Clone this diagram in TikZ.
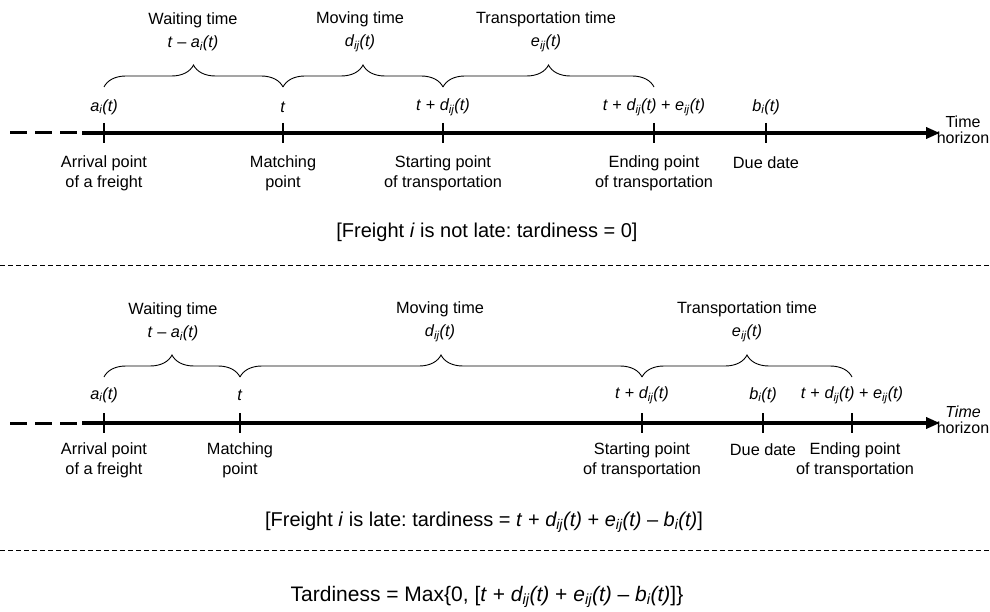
\documentclass[tikz,border=0pt]{standalone}
\usepackage{fontspec}
\setmainfont{Liberation Sans}
\usetikzlibrary{arrows.meta,decorations.pathreplacing}

% italic quantities of the timeline
\newcommand{\vt}{\textit{t}}
\newcommand{\vai}{\textit{a\textsubscript{i}(t)}}
\newcommand{\vbi}{\textit{b\textsubscript{i}(t)}}
\newcommand{\vdij}{\textit{d\textsubscript{ij}(t)}}
\newcommand{\veij}{\textit{e\textsubscript{ij}(t)}}

\begin{document}
\frenchspacing
\begin{tikzpicture}[x=1pt, y=-1pt,
  every node/.style={font=\fontsize{16.3}{20}\selectfont, inner sep=0pt, align=center},
  timeaxis/.style={line width=3.6pt, -{Triangle[length=14pt,width=11pt]}},
  tailaxis/.style={line width=3pt, dash pattern=on 17pt off 8pt},
  tick/.style={line width=1.3pt},
  span/.style={decorate, decoration={brace, amplitude=22pt}, line width=0.9pt},
  separator/.style={line width=1pt, dash pattern=on 5pt off 3pt},
  horizon/.style={font=\fontsize{16}{16.5}\selectfont},
  caption/.style={font=\fontsize{20}{24}\selectfont}]

\useasboundingbox (0,0) rectangle (990,612);

% ---------- Freight i is not late ----------
% Axis
\coordinate (tailA) at (10,133);
\coordinate (baseA) at (82,133);
\coordinate (tipA) at (940,133);
\draw[tailaxis] (tailA) -- (baseA);
\draw[timeaxis] (baseA) -- (tipA);
\node (horA) at (963,130) [horizon] {Time\\horizon};

% Ticks
\foreach \name/\x in {arrA/104, matchA/283, startA/443, endA/654, dueA/766} {
  \coordinate (\name) at (\x,133);
  \draw[tick] ([yshift=10pt]\name) -- ([yshift=-10pt]\name);
}

% Labels above the axis
\node (lblArrA) at (104,107) {\vai};
\node (lblMatchA) at (283,107) {\vt};
\node (lblStartA) at (443,107) {\vt{} + \vdij};
\node (lblEndA) at (654,107) {\vt{} + \vdij{} + \veij};
\node (lblDueA) at (766,107) {\vbi};

% Labels below the axis
\node (txtArrA) at (104,173) {Arrival point\\of a freight};
\node (txtMatchA) at (283,173) {Matching\\point};
\node (txtStartA) at (443,173) {Starting point\\of transportation};
\node (txtEndA) at (654,173) {Ending point\\of transportation};
\node (txtDueA) at (766,163) {Due date};

% Braces
\draw[span] ([yshift=46pt]arrA) -- ([yshift=46pt]matchA);
\draw[span] ([yshift=46pt]matchA) -- ([yshift=46pt]startA);
\draw[span] ([yshift=46pt]startA) -- ([yshift=46pt]endA);
\node (waitA) at (193,32) {Waiting time\\[3pt]\vt{} -- \vai};
\node (moveA) at (360,32) {Moving time\\[3pt]\vdij};
\node (transA) at (546,32) {Transportation time\\[3pt]\veij};

\node (capA) at (487,232) [caption] {[Freight \textit{i} is not late: tardiness = 0]};

% Separator
\coordinate (sepAl) at (0,266);
\coordinate (sepAr) at (990,266);
\draw[separator] (sepAl) -- (sepAr);

% ---------- Freight i is late ----------
% Axis
\coordinate (tailB) at (10,423);
\coordinate (baseB) at (82,423);
\coordinate (tipB) at (940,423);
\draw[tailaxis] (tailB) -- (baseB);
\draw[timeaxis] (baseB) -- (tipB);
\node (horB) at (963,420) [horizon] {\textit{Time}\\horizon};

% Ticks
\foreach \name/\x in {arrB/104, matchB/240, startB/642, dueB/763, endB/852} {
  \coordinate (\name) at (\x,423);
  \draw[tick] ([yshift=10pt]\name) -- ([yshift=-10pt]\name);
}

% Labels above the axis
\node (lblArrB) at (104,395) {\vai};
\node (lblMatchB) at (240,395) {\vt};
\node (lblStartB) at (642,395) {\vt{} + \vdij};
\node (lblDueB) at (763,395) {\vbi};
\node (lblEndB) at (852,395) {\vt{} + \vdij{} + \veij};

% Labels below the axis
\node (txtArrB) at (104,460) {Arrival point\\of a freight};
\node (txtMatchB) at (240,460) {Matching\\point};
\node (txtStartB) at (642,460) {Starting point\\of transportation};
\node (txtDueB) at (763,450) {Due date};
\node (txtEndB) at (855,460) {Ending point\\of transportation};

% Braces
\draw[span] ([yshift=46pt]arrB) -- ([yshift=46pt]matchB);
\draw[span] ([yshift=46pt]matchB) -- ([yshift=46pt]startB);
\draw[span] ([yshift=46pt]startB) -- ([yshift=46pt]endB);
\node (waitB) at (173,322) {Waiting time\\[3pt]\vt{} -- \vai};
\node (moveB) at (440,322) {Moving time\\[3pt]\vdij};
\node (transB) at (747,322) {Transportation time\\[3pt]\veij};

\node (capB) at (484,522) [caption] {[Freight \textit{i} is late: tardiness = \vt{} + \vdij{} + \veij{} -- \vbi]};

% Separator
\coordinate (sepBl) at (0,550);
\coordinate (sepBr) at (990,550);
\draw[separator] (sepBl) -- (sepBr);

% Tardiness
\node (tard) at (487,597) [caption, font=\fontsize{21}{24}\selectfont] {Tardiness = Max\{0, [\vt{} + \vdij{} + \veij{} -- \vbi]\}};

\end{tikzpicture}
\end{document}
